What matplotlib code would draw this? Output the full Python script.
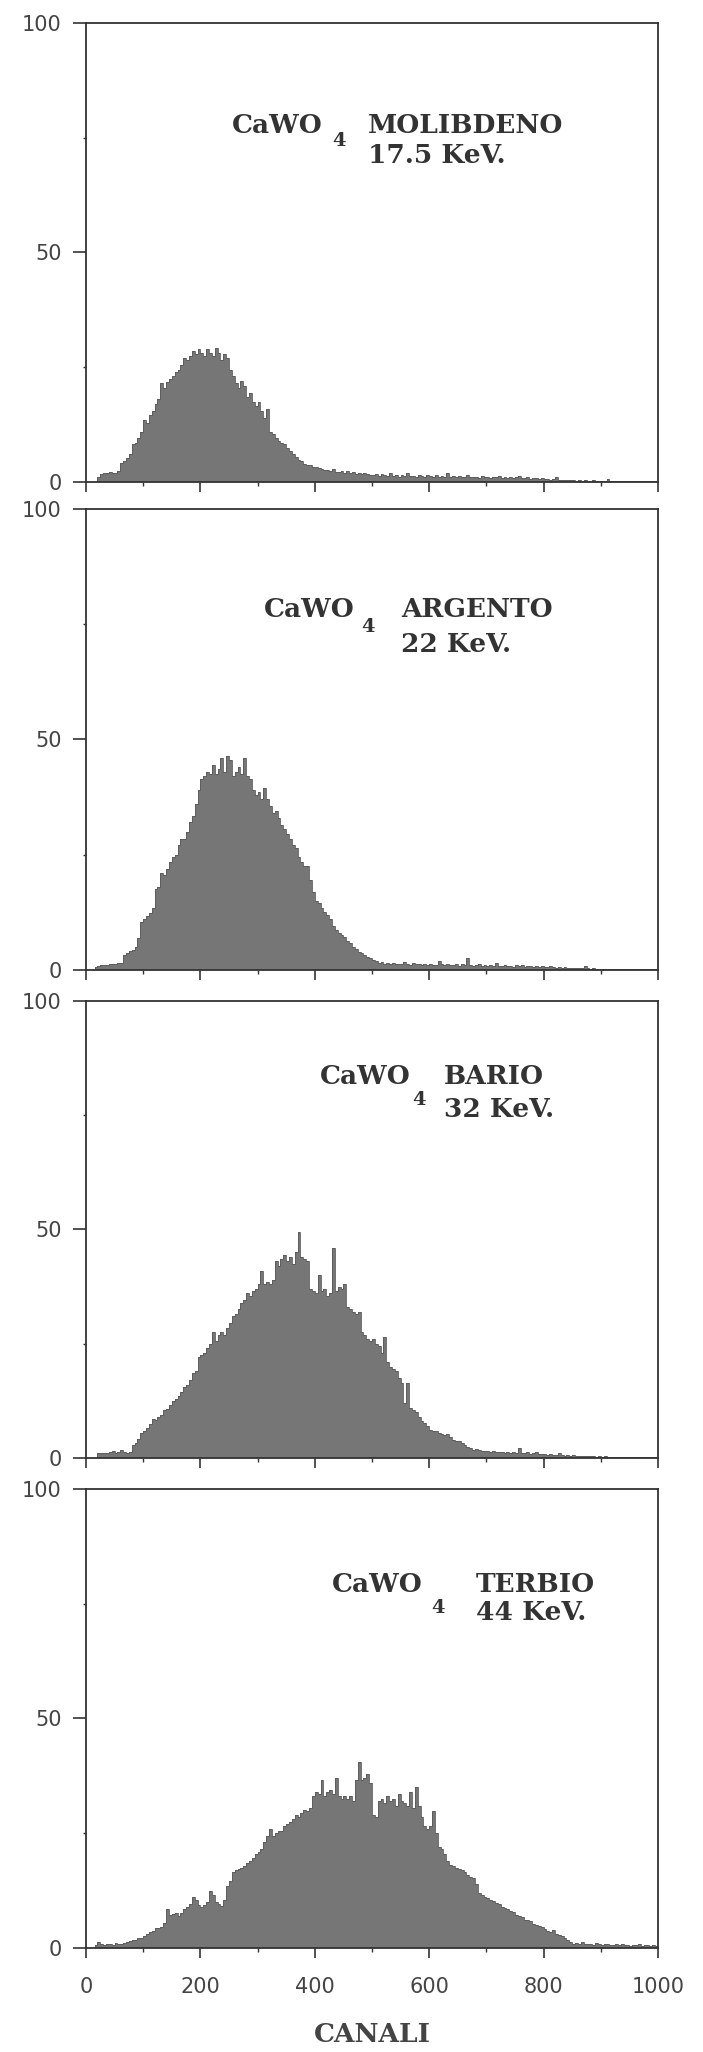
import numpy as np
import matplotlib.pyplot as plt

# channel histograms, 5-channel bins from 0 to 1000
BIN_WIDTH = 5
channels = np.arange(0, 1000 + BIN_WIDTH, BIN_WIDTH)

counts_mo = [
    0, 0, 0, 0, 1.2, 1.8, 2, 2, 2.1, 1.9, 2, 2.3, 4.2, 4.6, 5.2, 6, 8.2, 8.6, 9.5, 11,
    13.5, 12.8, 14.5, 15.5, 17, 18, 21.5, 20.5, 21.8, 22.5, 23, 24, 24.5, 25.5, 27, 26.5, 27.5, 28.5, 27.8, 29,
    28, 27.5, 29, 28, 27.5, 29.2, 28, 26.5, 27.8, 27, 24.5, 23, 21.5, 20.5, 22, 21, 18.5, 19.5, 17.5, 16.5,
    17.5, 15.5, 14, 16, 11, 10.5, 9.5, 9, 8.5, 8.2, 7.5, 6.8, 6.2, 5.5, 4.8, 4.5, 4, 3.8, 3.6, 3.3,
    3.3, 3, 2.8, 2.6, 2.7, 2.4, 2.9, 2.2, 2.1, 2.4, 2, 2.3, 1.9, 2.1, 1.8, 2, 1.7, 1.9, 1.8, 1.6,
    1.5, 1.8, 1.4, 1.7, 1.6, 1.3, 1.9, 1.4, 1.5, 1.2, 1.6, 1.3, 2.0, 1.3, 1.4, 1.2, 1.5, 1.3, 1.2, 1.6,
    1.3, 1.2, 1.5, 1.1, 1.4, 1.2, 1.9, 1.1, 1.3, 1.0, 1.4, 1.1, 1.2, 1.6, 1.0, 1.2, 1.1, 0.9, 1.3, 1.0,
    1.2, 0.9, 1.1, 1.0, 1.3, 0.8, 1.0, 0.9, 1.2, 0.8, 1.0, 1.4, 0.9, 0.8, 1.0, 0.7, 0.9, 0.8, 0.7, 0.9,
    0.6, 0.7, 0.5, 0.6, 1.1, 0.5, 0.4, 0.5, 0.4, 0.5, 0.4, 0.3, 0.4, 0.3, 0.5, 0.3, 0.3, 0.4, 0.3, 0.3,
    0.3, 0.3, 0.7, 0.3, 0.3, 0.2, 0.3, 0.2, 0.3, 0.2, 0.2, 0.3, 0.2, 0.2, 0.3, 0.2, 0.2, 0.2, 0.2, 0.2,
]

counts_ag = [
    0, 0, 0, 0.7, 0.9, 1.0, 1.1, 1.0, 1.2, 1.3, 1.4, 1.5, 1.6, 3.2, 3.7, 4.1, 4.4, 5, 7, 10.5,
    11, 11.8, 12.3, 13.5, 17.5, 18, 21, 20.5, 22, 23.5, 24.5, 25, 27, 28.3, 28.5, 30, 32, 33.5, 36, 39,
    41.5, 42, 43, 42.5, 44.5, 42.5, 43.5, 46, 43, 46.5, 45.5, 42, 43, 44, 42.5, 46, 42, 41.5, 39, 38,
    38.5, 37, 39.5, 37, 35.5, 34, 34.5, 33, 31.5, 30.5, 29.5, 28.5, 27, 26.5, 24.5, 23.5, 22.5, 22.5, 19.5, 17,
    15, 14.5, 13.5, 12.5, 12, 11, 9.5, 8.7, 8, 7.5, 7.2, 6.2, 5.8, 5, 4.6, 4, 3.6, 3.3, 2.8, 2.5,
    2.2, 2, 1.6, 1.8, 1.4, 1.5, 1.3, 1.6, 1.3, 1.4, 1.2, 1.7, 1.2, 1.1, 1.5, 1.3, 1.2, 1.0, 1.4, 1.1,
    1.3, 1.0, 1.1, 1.9, 1.2, 1.0, 1.3, 1.1, 1.0, 1.4, 0.9, 1.2, 1.0, 2.5, 1.1, 0.9, 1.0, 1.2, 0.9, 1.1,
    0.9, 1.0, 0.8, 1.6, 0.9, 0.8, 1.0, 0.8, 0.9, 0.7, 1.0, 0.8, 1.1, 0.7, 0.9, 0.8, 0.7, 0.9, 0.6, 0.8,
    0.7, 0.6, 0.8, 0.6, 0.5, 0.7, 0.5, 0.6, 0.5, 0.4, 0.5, 0.4, 0.5, 0.4, 0.9, 0.4, 0.3, 0.4, 0.3, 0.3,
    0.3, 0.3, 0.3, 0.2, 0.3, 0.2, 0.3, 0.2, 0.2, 0.2, 0.3, 0.2, 0.2, 0.2, 0.2, 0.2, 0.2, 0.2, 0.2, 0.2,
]

counts_ba = [
    0, 0, 0, 0, 1.0, 1.0, 1.1, 1.0, 1.2, 1.6, 1.1, 1.2, 1.8, 1.2, 1.1, 1.3, 2.8, 3.2, 4.2, 5.5,
    6, 6.5, 7.5, 8.5, 8.2, 9, 9.5, 10.5, 10.8, 11.5, 12.5, 12.8, 13.5, 14.5, 15.5, 16, 17, 18.5, 19, 22,
    22.5, 23, 24, 25, 27.5, 25.5, 27, 27.5, 27, 28.5, 29.5, 31, 31.5, 32.5, 34, 34.5, 36, 35.5, 36.5, 37,
    38, 41, 38, 38.5, 38, 39, 43, 42, 43.5, 44.5, 43, 44, 42.5, 45, 49.5, 44, 43.5, 43, 37, 36.5,
    36, 40, 36.5, 37, 35.5, 36, 46, 36.5, 37.5, 37, 38, 33, 32.5, 32, 31.5, 32, 27.5, 27, 26, 25.5,
    26, 25, 24.5, 23, 26.5, 21, 20, 19.5, 19, 17.5, 16.5, 12, 16.5, 11, 10.6, 10, 9, 8, 7.6, 7,
    6.2, 6, 5.8, 5.5, 5.2, 5, 5.2, 4.5, 4, 3.8, 3.6, 3.2, 2.8, 2.5, 2.2, 1.8, 1.9, 1.7, 1.6, 1.5,
    1.5, 1.4, 1.6, 1.3, 1.2, 1.4, 1.1, 1.2, 1.0, 1.3, 1.1, 2.2, 1.0, 1.1, 1.4, 0.9, 1.0, 1.2, 0.8, 0.9,
    0.8, 0.7, 0.9, 0.7, 0.6, 1.1, 0.6, 0.5, 0.6, 0.5, 0.6, 0.5, 0.4, 0.5, 0.4, 0.4, 0.5, 0.4, 0.3, 0.4,
    0.3, 0.4, 0.3, 0.3, 0.3, 0.2, 0.3, 0.2, 0.2, 0.2, 0.2, 0.2, 0.2, 0.2, 0.2, 0.2, 0.2, 0.2, 0.2, 0.2,
]

counts_tb = [
    0, 0, 0, 0.6, 1.2, 0.9, 0.7, 0.8, 0.9, 0.7, 1.0, 0.8, 0.9, 1.0, 1.3, 1.5, 1.8, 1.7, 2.1, 2.2,
    2.6, 3.0, 3.4, 3.6, 4.3, 4.3, 4.6, 5.5, 8.5, 7.2, 7.5, 7.6, 7.0, 7.7, 8.5, 9, 9.5, 11, 10.5, 9.3,
    9, 9.3, 10, 12.5, 11.5, 10, 9.5, 9.2, 10.5, 13.6, 14.5, 16.5, 17, 17.2, 17.5, 17.9, 18.5, 19, 19.5, 20.4,
    21, 21.5, 23, 24.5, 26, 24.5, 25, 25.5, 25.5, 26.5, 27, 27.5, 28, 29, 28.5, 29.5, 30, 29.8, 30.5, 33,
    34, 33.5, 36.5, 33, 34, 34.5, 33.5, 37, 33, 32.5, 33, 32.5, 33, 32, 36.5, 40.5, 36.5, 37, 38, 36,
    29, 28.5, 32, 32.5, 31.5, 33, 32, 32.5, 31, 33.5, 32, 31.5, 31, 34, 30.5, 35, 31, 28.5, 26.5, 26,
    26.5, 29.8, 25, 22, 21.5, 20.5, 19, 18, 17.8, 17.5, 17.2, 17, 16.5, 16, 15.5, 15.3, 14, 12, 11.5, 11,
    10.8, 10.5, 10.2, 9.8, 9.5, 9, 8.8, 8.5, 8, 7.8, 7.2, 7, 6.8, 6.2, 6, 5.8, 5.2, 5, 4.8, 4.5,
    4.2, 3.8, 3.4, 4.0, 3.0, 2.8, 2.6, 2.2, 1.8, 1.2, 0.9, 1.0, 0.9, 1.3, 0.8, 0.9, 0.8, 0.7, 1.0, 0.8,
    0.7, 0.9, 0.8, 0.6, 0.7, 0.8, 0.6, 0.9, 0.7, 0.6, 0.5, 0.7, 0.6, 0.8, 0.5, 0.6, 0.6, 0.5, 0.6, 0.5,
]

elements = ["MOLIBDENO", "ARGENTO", "BARIO", "TERBIO"]
energies = ["17.5 KeV.", "22 KeV.", "32 KeV.", "44 KeV."]
spectra = [counts_mo, counts_ag, counts_ba, counts_tb]

# label anchors per panel: (end of "CaWO", subscript x, subscript y,
# start of element block, first baseline, second baseline)
label_pos = [
    (413, 442, 74.3, 493, 76.0, 69.5),
    (469, 493, 74.4, 551, 76.6, 69.0),
    (567, 582, 78.3, 626, 81.8, 74.6),
    (589, 615, 74.1, 682, 77.6, 71.5),
]

# axes boxes in figure fractions (left, bottom, width, height)
panels = [
    (0.1223, 0.7651, 0.8137, 0.2237),
    (0.1223, 0.5273, 0.8137, 0.2247),
    (0.1223, 0.2895, 0.8137, 0.2227),
    (0.1223, 0.0507, 0.8137, 0.2237),
]

ink = "#333333"
serif = ["DejaVu Serif"]

fig = plt.figure(figsize=(7.03, 20.52), dpi=100)

for i, (box, counts) in enumerate(zip(panels, spectra)):
    ax = fig.add_axes(box)
    counts = np.array(counts)
    ax.stairs(counts, channels, fill=True, color="#767676", baseline=0)
    ax.stairs(counts, channels, color="#5a5a5a", linewidth=0.6, baseline=0)

    ax.set_xlim(0, 1000)
    ax.set_ylim(0, 100)
    for sp in ax.spines.values():
        sp.set_color(ink)
        sp.set_linewidth(1.3)

    ax.set_xticks(range(0, 1001, 200))
    ax.set_xticks(range(100, 1000, 200), minor=True)
    ax.set_yticks([0, 50, 100])
    ax.set_yticks([25, 75], minor=True)
    ax.tick_params(axis="x", which="major", direction="out", length=7, width=1.2,
                   color=ink, labelsize=15, labelcolor="#444444", pad=14)
    ax.tick_params(axis="x", which="minor", direction="out", length=3, width=1.0, color=ink)
    ax.tick_params(axis="y", which="major", direction="out", length=9.5, width=1.2,
                   color=ink, labelsize=15, labelcolor="#444444", pad=8)
    ax.tick_params(axis="y", which="minor", direction="out", length=2.5, width=1.0, color=ink)
    if i < len(panels) - 1:
        ax.tick_params(axis="x", labelbottom=False)

    x_end, x_sub, y_sub, x_blk, y1, y2 = label_pos[i]
    ax.text(x_end, y1, "CaWO", ha="right", va="baseline", fontsize=19,
            fontweight="bold", family=serif, color=ink)
    ax.text(x_sub, y_sub, "4", ha="center", va="center", fontsize=14,
            fontweight="bold", family=serif, color=ink)
    ax.text(x_blk, y1, elements[i], ha="left", va="baseline", fontsize=19,
            fontweight="bold", family=serif, color=ink)
    ax.text(x_blk, y2, energies[i], ha="left", va="baseline", fontsize=19,
            fontweight="bold", family=serif, color=ink)

ax.set_xlabel("CANALI", fontsize=19, fontweight="bold", family=serif,
              color="#444444", labelpad=18)

fig.savefig("out.png", dpi=100)
